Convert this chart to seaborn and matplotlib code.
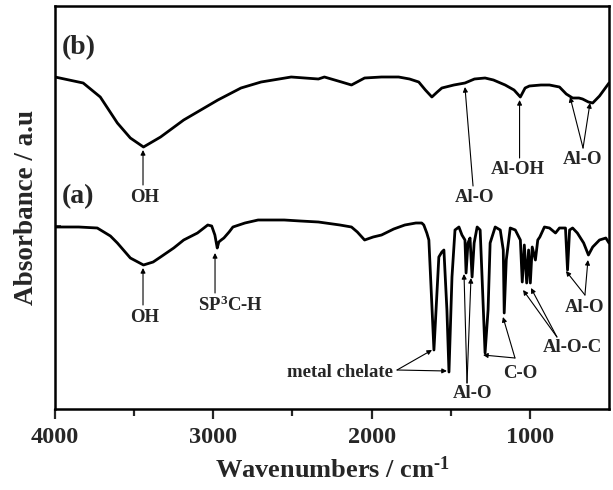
import matplotlib
matplotlib.use("Agg")
import matplotlib.pyplot as plt
import seaborn as sns
import pandas as pd

# ---- data (arbitrary absorbance units) ----
wn_b = [4000, 3822, 3714, 3606, 3524, 3441, 3333, 3187, 2971, 2825, 2698, 2508,
        2336, 2298, 2190, 2127, 2044, 1937, 1829, 1760, 1702, 1660, 1619, 1585,
        1556, 1480, 1410, 1350, 1283, 1230, 1156, 1100, 1060, 1030, 1003, 930,
        876, 813, 770, 730, 690, 667, 630, 603, 560, 500]
abs_b = [332, 326, 312, 286, 271, 262, 272, 289, 309, 321, 327, 332,
         330, 332, 327, 324, 331, 332, 332, 330, 327, 319, 312, 317,
         321, 324, 326, 330, 331, 329, 324, 319, 312, 321, 323, 324,
         324, 322, 315, 311, 311, 310, 307, 306, 313, 326]

wn_a = [4000, 3850, 3733, 3650, 3606, 3524, 3441, 3380, 3333, 3250, 3187, 3100,
        3035, 3010, 2990, 2975, 2965, 2950, 2933, 2900, 2876, 2800, 2717, 2552,
        2450, 2336, 2200, 2127, 2090, 2044, 1990, 1937, 1860, 1790, 1720, 1683,
        1670, 1651, 1638, 1606, 1575, 1556, 1543, 1524, 1511, 1492, 1473, 1448,
        1429, 1410, 1403, 1391, 1378, 1365, 1352, 1333, 1314, 1302, 1283, 1264,
        1251, 1219, 1187, 1168, 1162, 1149, 1124, 1092, 1060, 1048, 1035, 1020,
        1008, 997, 985, 965, 950, 937, 908, 876, 838, 813, 775, 762,
        749, 730, 700, 660, 630, 603, 560, 520, 500]
abs_a = [182, 182, 181, 173, 166, 151, 144, 147, 152, 161, 169, 176,
         184, 183, 174, 161, 167, 169, 171, 177, 182, 186, 189, 189,
         188, 187, 184, 182, 177, 169, 172, 174, 180, 184, 186, 186,
         184, 176, 169, 59, 152, 157, 159, 99, 37, 132, 179, 182,
         174, 169, 136, 166, 171, 132, 166, 182, 179, 132, 56, 99,
         166, 182, 179, 159, 96, 149, 181, 179, 169, 127, 164, 126,
         159, 126, 162, 149, 169, 172, 182, 181, 176, 181, 181, 139,
         179, 181, 176, 166, 154, 162, 169, 171, 166]

x_ticks = [4000, 3000, 2000, 1000]
x_minor = [3500, 2500, 1500]

FONT = "Liberation Serif"

sns.set_theme(style="ticks")
plt.rcParams["font.family"] = [FONT, "DejaVu Serif"]
plt.rcParams["font.weight"] = "bold"
plt.rcParams["mathtext.fontset"] = "custom"
plt.rcParams["mathtext.rm"] = FONT + ":bold"
plt.rcParams["mathtext.bf"] = FONT + ":bold"
plt.rcParams["mathtext.it"] = FONT + ":bold"
plt.rcParams["mathtext.default"] = "rm"

fig = plt.figure(figsize=(6.13, 4.90), dpi=100)
ax = fig.add_axes([55 / 613, 1 - 409 / 490, (609 - 55) / 613, (409 - 6) / 490])

df_b = pd.DataFrame({"wn": wn_b, "A": abs_b})
df_a = pd.DataFrame({"wn": wn_a, "A": abs_a})
sns.lineplot(data=df_b, x="wn", y="A", color="black", lw=2.0, estimator=None, ax=ax)
sns.lineplot(data=df_a, x="wn", y="A", color="black", lw=2.0, estimator=None, ax=ax)

ax.set_xlim(4000, 500)
ax.set_ylim(0, 403)
ax.set_xticks(x_ticks)
ax.set_xticks(x_minor, minor=True)
ax.set_xticklabels([str(t) for t in x_ticks], fontsize=17.5, fontweight="bold", family=FONT)
ax.set_yticks([183])
ax.set_yticklabels([""])
ax.tick_params(axis="x", which="major", direction="out", length=7, width=1.6, pad=6)
ax.tick_params(axis="x", which="minor", direction="out", length=5, width=1.6)
ax.tick_params(axis="y", which="major", direction="in", length=4, width=1.2)
for s in ax.spines.values():
    s.set_linewidth(1.8)
    s.set_color("black")

ax.set_xlabel(r"Wavenumbers / cm$^{\text{-1}}$", fontsize=19, fontweight="bold", family=FONT, labelpad=6)
ax.set_ylabel("Absorbance / a.u", fontsize=19.5, fontweight="bold", family=FONT, labelpad=8)

LBL = 13.5
ax.text(3955, 361, "(b)", fontsize=20, fontweight="bold", ha="left", va="center", family=FONT)
ax.text(3955, 212, "(a)", fontsize=20, fontweight="bold", ha="left", va="center", family=FONT)

# labels: (text, x, y)
labels = [
    ("OH", 3431, 212), ("OH", 3431, 92), ("SP$^{3}$C-H", 2894, 104),
    ("Al-O", 1347, 212), ("Al-OH", 1075, 239), ("Al-O", 664, 249),
    ("metal chelate", 2200, 37), ("Al-O", 1359, 16), ("C-O", 1062, 36),
    ("Al-O-C", 734, 62), ("Al-O", 652, 102),
]
for t, x, y in labels:
    ax.text(x, y, t, fontsize=LBL, fontweight="bold", ha="center", va="center", family=FONT)

# arrows: (tail x, tail y, tip x, tip y)
arrows = [
    (3444, 224, 3444, 259), (3444, 104, 3444, 141), (2989, 116, 2989, 156),
    (1359, 223, 1410, 322), (1065, 251, 1065, 309),
    (664, 261, 746, 312), (664, 261, 620, 306),
    (1839, 39, 1618, 59), (1839, 39, 1524, 38),
    (1397, 26, 1416, 135), (1397, 26, 1372, 131),
    (1094, 51, 1296, 54), (1094, 51, 1170, 92),
    (829, 72, 1043, 119), (829, 72, 993, 121),
    (652, 114, 772, 138), (652, 114, 633, 149),
]
for x0, y0, x1, y1 in arrows:
    ax.annotate("", xy=(x1, y1), xytext=(x0, y0),
                arrowprops=dict(arrowstyle="-|>", color="black", lw=0.8,
                                mutation_scale=7, shrinkA=0, shrinkB=0))

fig.savefig("out.png", dpi=100)
